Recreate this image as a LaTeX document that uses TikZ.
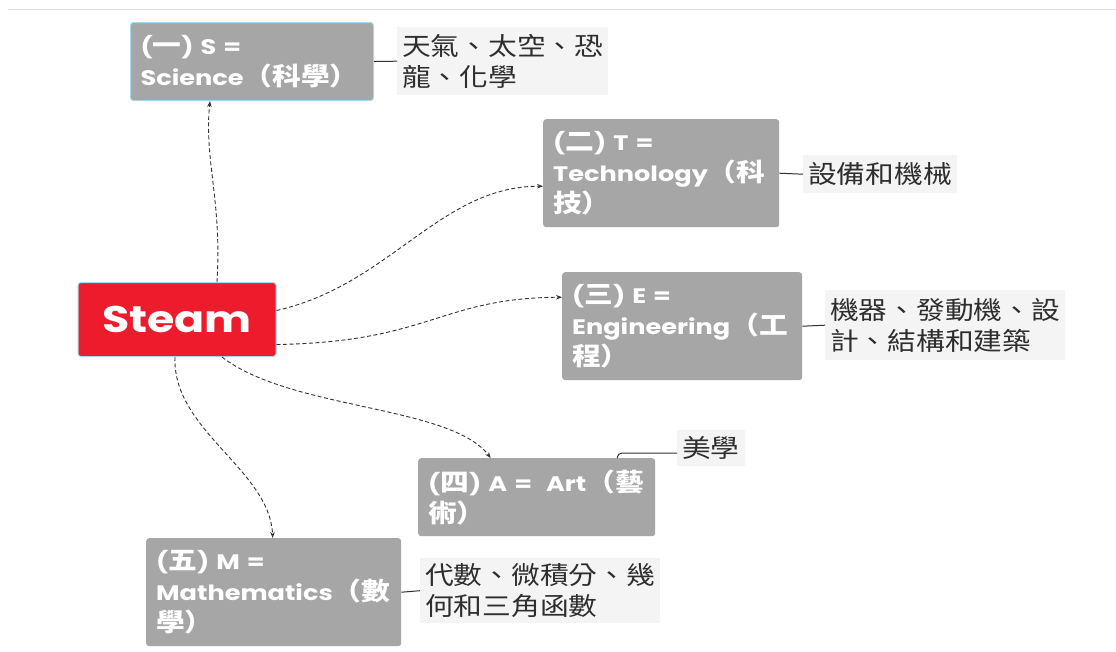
\documentclass[tikz,border=0pt]{standalone}
\usepackage{fontspec}
\setmainfont{Poppins}
\newfontfamily\lat{Poppins}[FakeStretch=1.22]
\newfontfamily\stf{Poppins}[FakeStretch=1.2]
\newfontfamily\zhf{Noto Sans CJK TC}[FakeStretch=1.15]
\newcommand\zh[1]{{\zhf\fontsize{25}{31}\selectfont #1}}
\usetikzlibrary{arrows.meta}
\definecolor{boxgray}{HTML}{A6A6A6}
\definecolor{steamred}{HTML}{EC1C2C}
\definecolor{edgeblue}{HTML}{A8D8EC}
\definecolor{lblbg}{HTML}{F4F4F4}
\definecolor{lbltext}{HTML}{2E2E2E}
\definecolor{conn}{HTML}{333333}
\definecolor{rule}{HTML}{E2E2E2}
\tikzset{
  gbox/.style={fill=boxgray, rounded corners=3pt, anchor=north west, text=white,
    font=\lat\bfseries\fontsize{21}{31}\selectfont, align=left, inner xsep=10pt, inner ysep=0pt},
  lbl/.style={fill=lblbg, anchor=north west, text=lbltext,
    font=\zhf\fontsize{25}{31}\selectfont, align=left, inner xsep=5pt, inner ysep=0pt},
  dconn/.style={draw=conn, line width=0.9pt, dash pattern=on 4pt off 2.5pt,
    -{Stealth[length=6pt,width=4.5pt]}},
  sconn/.style={draw=conn, line width=1pt, rounded corners=4pt}
}
\begin{document}
\begin{tikzpicture}[x=1pt,y=-1pt]
\path[fill=white] (0,0) rectangle (1116,651);
\useasboundingbox (0,0) rectangle (1116,651);
\draw[rule, line width=0.8pt] (8,9) -- (1116,9);

% central
\node[fill=steamred, draw=edgeblue, line width=1pt, rounded corners=3pt,
  minimum width=198pt, minimum height=74pt, text=white,
  font=\stf\bfseries\fontsize{37}{37}\selectfont] (St) at (177,319.5) {Steam};

% topic boxes
\node[gbox, draw=edgeblue, line width=1pt, text width=223pt, minimum height=78pt] (S) at (130,22)
  {(\zh{一}) S =\\Science\zh{（科學）}};
\node[gbox, text width=216pt, minimum height=108pt] (T) at (543,119)
  {(\zh{二}) T =\\Technology\zh{（科}\\\zh{技）}};
\node[gbox, text width=220pt, minimum height=108pt] (E) at (562,272)
  {(\zh{三}) E =\\Engineering\zh{（工}\\\zh{程）}};
\node[gbox, text width=217pt, minimum height=78pt] (A) at (418,458)
  {(\zh{四}) A =~ Art\zh{（藝}\\\zh{術）}};
\node[gbox, text width=235pt, minimum height=108pt] (M) at (146,538)
  {(\zh{五}) M =\\Mathematics\zh{（數}\\\zh{學）}};

% labels
\node[lbl, minimum width=210pt, minimum height=68pt] (Sl) at (397,27) {天氣、太空、恐\\龍、化學};
\node[lbl, minimum width=152pt, minimum height=38pt] (Tl) at (803,155) {設備和機械};
\node[lbl, minimum width=238pt, minimum height=70pt] (El) at (825,290) {機器、發動機、設\\計、結構和建築};
\node[lbl, minimum width=63pt, minimum height=36pt] (Al) at (677,430) {美學};
\node[lbl, minimum width=240pt, minimum height=65pt] (Ml) at (420,558) {代數、微積分、幾\\何和三角函數};

% solid connectors
\draw[sconn] (S.east) -- (Sl.west);
\draw[sconn] (T.east) -- (Tl.west);
\draw[sconn] (E.east) -- (El.west);
\draw[sconn] (M.east) -- (Ml.west);
\draw[sconn] ([xshift=-38pt]A.north east) |- ([yshift=-5pt]Al.west);

% dashed connectors
\draw[dconn] ([xshift=40pt]St.north) .. controls (222,200) and (204,160) .. ([xshift=-42pt]S.south);
\draw[dconn] ([yshift=9pt]St.east) .. controls (390,285) and (440,186) .. ([yshift=-13pt]T.west);
\draw[dconn] ([yshift=-25pt]St.east) .. controls (430,342) and (440,298) .. ([yshift=29pt]E.west);
\draw[dconn] ([xshift=45pt]St.south) .. controls (290,410) and (450,405) .. ([xshift=-46pt]A.north);
\draw[dconn] ([xshift=-2pt]St.south) .. controls (172,430) and (270,470) .. ([xshift=-1pt]M.north);
\end{tikzpicture}
\end{document}
